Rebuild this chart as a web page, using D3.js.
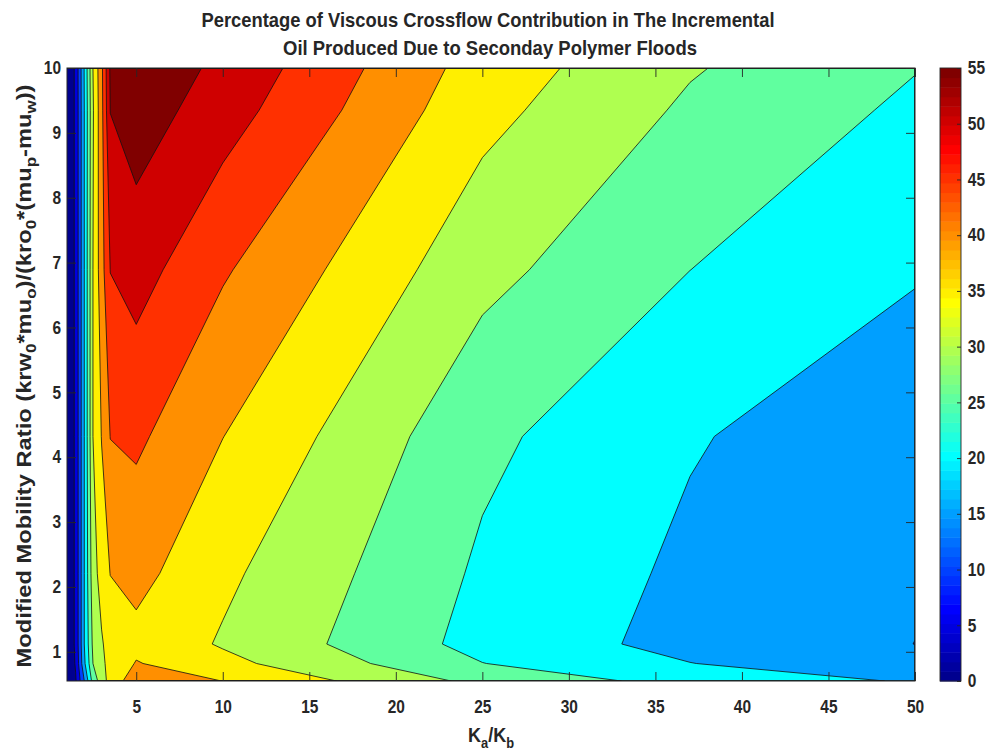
<!DOCTYPE html>
<html>
<head>
<meta charset="utf-8">
<script src="https://cdn.jsdelivr.net/npm/d3@7"></script>
<style>
  html, body { margin: 0; padding: 0; background: #ffffff; }
  svg text {
    font-family: "Liberation Sans", Arial, Helvetica, sans-serif;
    font-weight: bold;
    fill: #262626;
  }
</style>
</head>
<body>
<svg id="chart" width="990" height="754"></svg>
<script>
// Permeability contrast Ka/Kb (grid columns)
const kaKb = [1, 1.5, 2, 2.5, 3, 3.5, 5, 10, 25, 37, 50];
// Modified mobility ratio (grid rows, bottom to top)
const mobilityRatio = [0.55, 0.82, 1.12, 2.21, 4.32, 6.89, 9.35, 10];
// Viscous crossflow contribution (%) — one row per mobility ratio, one column per Ka/Kb
const crossflowPct = [
  [0, 4.5, 15, 27, 32.5, 37.0, 43.1, 39.95, 28.64, 23.2, 19.5],
  [0, 5.5, 19, 30, 34.0, 36.5, 40.3, 36.48, 25.1, 20.1, 16.5],
  [0, 6.0, 20, 31, 34.5, 37.0, 38.6, 34.5, 23.27, 18.4, 14.97],
  [0, 6.0, 20, 33, 37.0, 40.1, 41.5, 36.0, 24.2, 19.03, 15.5],
  [0, 6.0, 20, 35, 40.2, 45.1, 45.9, 40.07, 26.1, 20.4, 16.7],
  [0, 6.0, 20, 35, 43.0, 50.1, 52.0, 45.56, 31.46, 25.02, 20.42],
  [0, 6.0, 20, 34.5, 43.5, 55.1, 57.63, 52.2, 36.5, 29.19, 24.08],
  [0, 6.0, 20.3, 35, 43.8, 55.7, 59.0, 53.7, 37.75, 30.42, 25.19]
];
const contourLevels = [5, 10, 15, 20, 25, 30, 35, 40, 45, 50, 55];
const xTicks = [5, 10, 15, 20, 25, 30, 35, 40, 45, 50];
const yTicks = [1, 2, 3, 4, 5, 6, 7, 8, 9, 10];
const colorbarTicks = [0, 5, 10, 15, 20, 25, 30, 35, 40, 45, 50, 55];
const colorRange = [0, 55];

// MATLAB-style jet colormap with m entries
function jetColormap(m) {
  const n = Math.ceil(m / 4);
  const u = [];
  for (let i = 1; i <= n; i++) u.push(i / n);
  for (let i = 1; i < n; i++) u.push(1);
  for (let i = n; i >= 1; i--) u.push(i / n);
  const off = Math.ceil(n / 2) - (m % 4 === 1 ? 1 : 0);
  const R = new Array(m).fill(0), G = new Array(m).fill(0), B = new Array(m).fill(0);
  u.forEach((val, k) => {
    const g = off + k + 1, r = g + n, b = g - n;
    if (g >= 1 && g <= m) G[g - 1] = val;
    if (r >= 1 && r <= m) R[r - 1] = val;
    if (b >= 1 && b <= m) B[b - 1] = val;
  });
  return d3.range(m).map(i => d3.rgb(R[i] * 255, G[i] * 255, B[i] * 255).formatHex());
}
const jet = jetColormap(64);
const bandColor = level => {
  const t = (level - colorRange[0]) / (colorRange[1] - colorRange[0]);
  return jet[Math.max(0, Math.min(Math.floor(t * 64), 63))];
};

const plotLeft = 67, plotRight = 915, plotTop = 68, plotBottom = 681;
const axisColor = "#262626";
const narrow = 0.86; // horizontal squeeze applied to the bold labels

const svg = d3.select("#chart");
const x = d3.scaleLinear().domain([1, 50]).range([plotLeft, plotRight]);
const y = d3.scaleLinear().domain([0.55, 10]).range([plotBottom, plotTop]);

// Filled contours on the (non-uniform) grid
const nx = kaKb.length, ny = mobilityRatio.length;
const contours = d3.contours()
  .size([nx, ny])
  .thresholds(contourLevels)(crossflowPct.flat());

const colToKa = d3.scaleLinear().domain(d3.range(nx)).range(kaKb).clamp(true);
const rowToM = d3.scaleLinear().domain(d3.range(ny)).range(mobilityRatio).clamp(true);
const path = d3.geoPath(d3.geoTransform({
  point(cx, cy) { this.stream.point(x(colToKa(cx - 0.5)), y(rowToM(cy - 0.5))); }
}));

svg.append("defs").append("clipPath").attr("id", "plotClip")
  .append("rect")
  .attr("x", plotLeft).attr("y", plotTop)
  .attr("width", plotRight - plotLeft).attr("height", plotBottom - plotTop);

const plot = svg.append("g").attr("clip-path", "url(#plotClip)");
plot.append("rect")
  .attr("x", plotLeft).attr("y", plotTop)
  .attr("width", plotRight - plotLeft).attr("height", plotBottom - plotTop)
  .attr("fill", bandColor(0));
plot.selectAll("path.band").data(contours).join("path")
  .attr("class", "band")
  .attr("d", path)
  .attr("fill", d => bandColor(d.value));
plot.selectAll("path.iso").data(contours).join("path")
  .attr("class", "iso")
  .attr("d", path)
  .attr("fill", "none")
  .attr("stroke", "#111")
  .attr("stroke-width", 0.8)
  .attr("stroke-linejoin", "round");

// Axes (ticks pointing inward on all four sides)
function styleAxis(g, fontSize) {
  g.select(".domain").remove();
  g.selectAll(".tick line").attr("stroke", axisColor).attr("stroke-width", 0.9);
  g.selectAll(".tick text")
    .attr("fill", axisColor)
    .style("font-size", fontSize + "px")
    .attr("transform", `scale(${narrow},1)`);
}
svg.append("g").attr("transform", `translate(0,${plotBottom})`)
  .call(d3.axisBottom(x).tickValues(xTicks).tickSize(-9).tickSizeOuter(0).tickPadding(19))
  .call(g => styleAxis(g, 18));
svg.append("g").attr("transform", `translate(0,${plotTop})`)
  .call(d3.axisTop(x).tickValues(xTicks).tickSize(-9).tickSizeOuter(0).tickFormat(""))
  .call(g => styleAxis(g, 18));
svg.append("g").attr("transform", `translate(${plotLeft},0)`)
  .call(d3.axisLeft(y).tickValues(yTicks).tickSize(-9).tickSizeOuter(0).tickPadding(7))
  .call(g => styleAxis(g, 18));
svg.append("g").attr("transform", `translate(${plotRight},0)`)
  .call(d3.axisRight(y).tickValues(yTicks).tickSize(-9).tickSizeOuter(0).tickFormat(""))
  .call(g => styleAxis(g, 18));

svg.append("rect")
  .attr("x", plotLeft).attr("y", plotTop)
  .attr("width", plotRight - plotLeft).attr("height", plotBottom - plotTop)
  .attr("fill", "none").attr("stroke", axisColor).attr("stroke-width", 1);

// Colorbar
const cbLeft = 940, cbRight = 961;
const c = d3.scaleLinear().domain(colorRange).range([plotBottom, plotTop]);
const cbStep = (plotBottom - plotTop) / jet.length;
svg.append("g").selectAll("rect").data(jet).join("rect")
  .attr("x", cbLeft).attr("width", cbRight - cbLeft)
  .attr("y", (d, i) => plotBottom - (i + 1) * cbStep)
  .attr("height", cbStep + 0.5)
  .attr("fill", d => d);
svg.append("rect")
  .attr("x", cbLeft).attr("y", plotTop)
  .attr("width", cbRight - cbLeft).attr("height", plotBottom - plotTop)
  .attr("fill", "none").attr("stroke", axisColor).attr("stroke-width", 0.9);
svg.append("g").attr("transform", `translate(${cbRight},0)`)
  .call(d3.axisRight(c).tickValues(colorbarTicks).tickSize(-4).tickSizeOuter(0).tickPadding(8))
  .call(g => styleAxis(g, 18));

// Title
const title = svg.append("g");
title.append("text")
  .attr("x", 488).attr("y", 27).attr("text-anchor", "middle")
  .style("font-size", "21px")
  .attr("textLength", 573).attr("lengthAdjust", "spacingAndGlyphs")
  .text("Percentage of Viscous Crossflow Contribution in The Incremental");
title.append("text")
  .attr("x", 490).attr("y", 55).attr("text-anchor", "middle")
  .style("font-size", "21px")
  .attr("textLength", 414).attr("lengthAdjust", "spacingAndGlyphs")
  .text("Oil Produced Due to Seconday Polymer Floods");

// X label: K_a/K_b
const xl = svg.append("text")
  .attr("transform", `translate(491,742) scale(${narrow},1)`)
  .attr("text-anchor", "middle")
  .style("font-size", "21px");
xl.append("tspan").text("K");
xl.append("tspan").attr("dy", 6).style("font-size", "15px").text("a");
xl.append("tspan").attr("dy", -6).text("/K");
xl.append("tspan").attr("dy", 6).style("font-size", "15px").text("b");

// Y label with subscripts
const yl = svg.append("text")
  .attr("transform", "translate(31,376) rotate(-90)")
  .attr("text-anchor", "middle")
  .style("font-size", "21px")
  .attr("textLength", 583).attr("lengthAdjust", "spacingAndGlyphs");
const yParts = [
  ["Modified Mobility Ratio (krw", false], ["0", true], ["*mu", false], ["o", true],
  [")/(kro", false], ["0", true], ["*(mu", false], ["p", true], ["-mu", false], ["w", true], ["))", false]
];
yParts.forEach(([txt, sub], i) => {
  const prevSub = i > 0 && yParts[i - 1][1];
  const t = yl.append("tspan").text(txt);
  if (sub) t.attr("dy", 5).style("font-size", "15px");
  else if (prevSub) t.attr("dy", -5);
});
</script>
</body>
</html>
